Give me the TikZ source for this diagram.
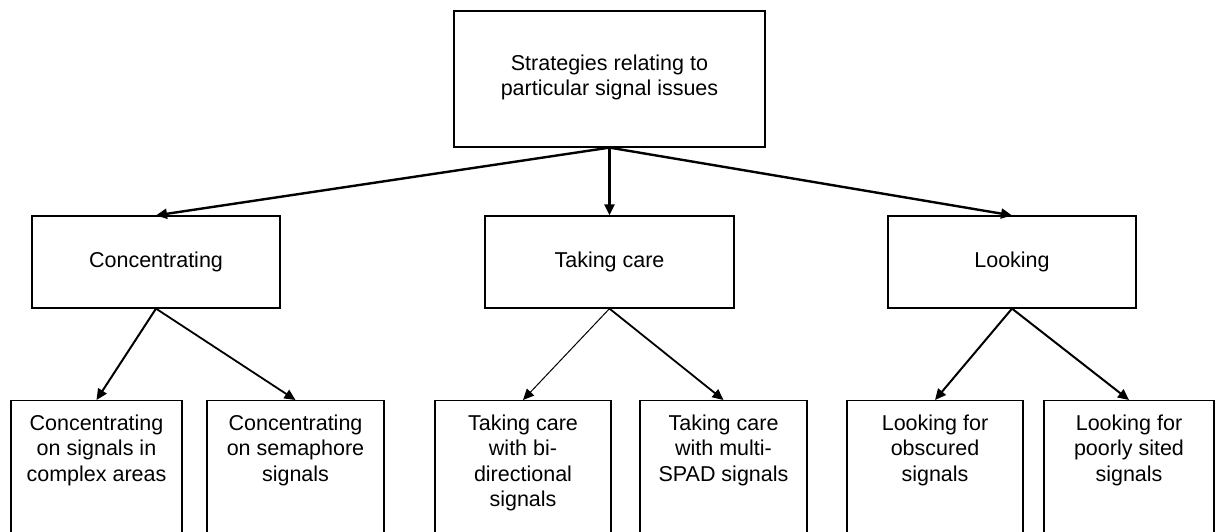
\documentclass[tikz,border=0pt]{standalone}
\usepackage{fontspec}
\setmainfont{Liberation Sans}
\usetikzlibrary{arrows.meta}

\begin{document}
\begin{tikzpicture}[x=1pt, y=-1pt]
    \tikzset{%
        box/.style={draw, line width=1.2pt, inner sep=0pt, align=center,
                font=\fontsize{21.5pt}{25.5pt}\selectfont},
        leafbox/.style={draw, line width=1.2pt, anchor=north, inner xsep=0pt, inner ysep=14pt,
                font=\fontsize{21.5pt}{25.5pt}\selectfont},
        link/.style={-{Triangle[length=11pt, width=10pt]}, line width=#1},
        link/.default=2.4pt
    }
    \useasboundingbox (0, 0) rectangle (1215, 531);

    \node [box, minimum width=311pt, minimum height=136pt] (root) at (609.5, 79) {Strategies relating to\\particular signal issues\\[-17.5pt]};

    \node [box, minimum width=248pt, minimum height=92pt] (conc) at (156, 262) {Concentrating};
    \node [box, minimum width=249pt, minimum height=92pt] (care) at (609.5, 262) {Taking care};
    \node [box, minimum width=248pt, minimum height=92pt] (look) at (1012, 262) {Looking};

    \foreach \leafname/\xc/\boxw/\leaftext in {%
            concA/96.5/171/{Concentrating\\on signals in\\complex areas},
            concB/295.5/177/{Concentrating\\on semaphore\\signals},
            careA/523/176/{Taking care\\with bi-\\directional\\signals},
            careB/723.5/167/{Taking care\\with multi-\\SPAD signals},
            lookA/935/176/{Looking for\\obscured\\signals},
            lookB/1129/170/{Looking for\\poorly sited\\signals}%
        } {%
            \node [leafbox] (\leafname) at (\xc, 400) {\parbox[t][130pt][t]{\boxw pt}{\centering \leaftext}};
        };

    \foreach \dst in {conc, care, look} {%
            \draw [link] (root.south) -- (\dst.north);
        };
    \foreach \src/\dst/\lw in {conc/concA/2pt, conc/concB/1.8pt, care/careA/1pt,
            care/careB/1.8pt, look/lookA/2pt, look/lookB/2pt} {%
            \draw [link=\lw] (\src.south) -- (\dst.north);
        };
\end{tikzpicture}
\end{document}
